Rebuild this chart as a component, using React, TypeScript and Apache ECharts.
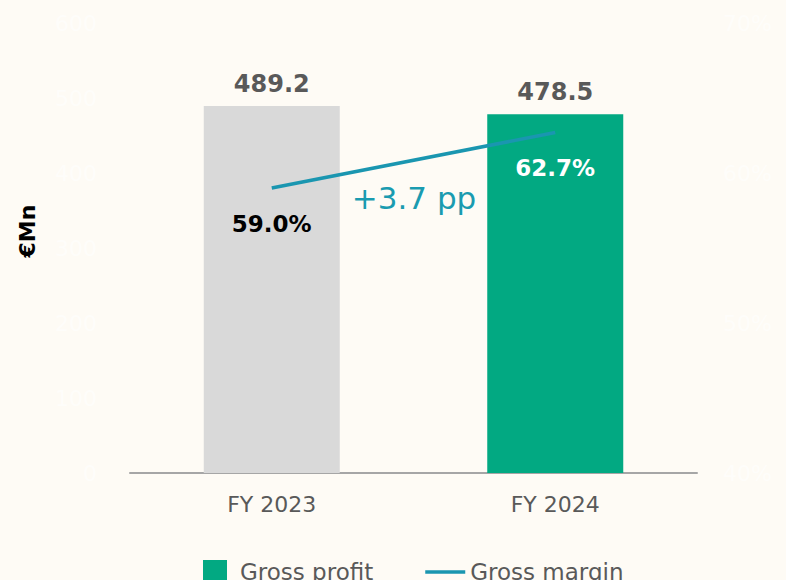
import React, { useEffect, useRef } from "react";
import * as echarts from "echarts";

const categories = ["FY 2023", "FY 2024"];
const grossProfit = [489.2, 478.5];
const grossMargin = [59.0, 62.7];
const barColors = ["#d9d9d9", "#02a982"];
const marginLabelColors = ["#000000", "#ffffff"];
const deltaText = "+3.7 pp";
const unitText = "€Mn";

const FONT = "DejaVu Sans";

export default function App() {
  const ref = useRef<HTMLDivElement>(null);
  useEffect(() => {
    if (!ref.current) return;
    const chart = echarts.init(ref.current, undefined, { renderer: "svg" });
    chart.setOption({
      animation: false,
      backgroundColor: "#fefbf5",
      textStyle: { fontFamily: FONT },
      grid: { left: 130, right: 89, top: 23, bottom: 107 },
      legend: {
        top: 555,
        left: 198,
        itemWidth: 40,
        itemHeight: 24,
        itemGap: 52,
        textStyle: { fontFamily: FONT, fontSize: 23, color: "#595959" },
        data: [
          { name: "Gross profit", icon: "path://M0,0H10V10H0Z", itemStyle: { color: "#02a982" } },
          { name: "Gross margin", icon: "path://M0,0H40V3.5H0Z", itemStyle: { color: "#1a96b0" } },
        ],
      },
      xAxis: {
        type: "category",
        data: categories,
        axisTick: { show: false },
        axisLine: { lineStyle: { color: "#a6a6a6", width: 2 } },
        axisLabel: { color: "#595959", fontSize: 22, margin: 20, fontFamily: FONT },
      },
      yAxis: [
        {
          type: "value",
          min: 0,
          max: 600,
          interval: 100,
          splitLine: { show: false },
          axisLine: { show: false },
          axisLabel: { color: "rgba(255,255,255,0.55)", fontSize: 22, margin: 33, fontFamily: FONT },
        },
        {
          type: "value",
          min: 40,
          max: 70,
          interval: 10,
          splitLine: { show: false },
          axisLine: { show: false },
          axisLabel: {
            color: "rgba(255,255,255,0.55)",
            fontSize: 22,
            margin: 26,
            fontFamily: FONT,
            formatter: "{value}%",
          },
        },
      ],
      series: [
        {
          name: "Gross profit",
          type: "bar",
          barWidth: 136,
          itemStyle: { color: "#02a982" },
          data: grossProfit.map((v, i) => ({ value: v, itemStyle: { color: barColors[i] } })),
          label: {
            show: true,
            position: "top",
            distance: 10,
            fontFamily: FONT,
            fontSize: 24,
            fontWeight: "bold",
            color: "#595959",
            formatter: (p: any) => p.value.toFixed(1),
          },
        },
        {
          name: "Gross margin",
          type: "line",
          yAxisIndex: 1,
          symbol: "circle",
          symbolSize: 0.1,
          showSymbol: true,
          lineStyle: { color: "#1a96b0", width: 3.5 },
          itemStyle: { color: "#1a96b0" },
          data: grossMargin.map((v, i) => ({
            value: v,
            label: {
              show: true,
              position: "bottom",
              distance: 24,
              fontFamily: FONT,
              fontSize: 23,
              fontWeight: "bold",
              color: marginLabelColors[i],
              formatter: (p: any) => p.value.toFixed(1) + "%",
            },
          })),
        },
      ],
      graphic: [
        {
          type: "text",
          x: 414,
          y: 198,
          style: {
            text: deltaText,
            fill: "#1a9bb0",
            fontFamily: FONT,
            fontSize: 31,
            align: "center",
            verticalAlign: "middle",
          },
        },
        {
          type: "text",
          x: 27,
          y: 231,
          rotation: Math.PI / 2,
          style: {
            text: unitText,
            fill: "#000000",
            fontFamily: FONT,
            fontSize: 22,
            fontWeight: "bold",
            align: "center",
            verticalAlign: "middle",
          },
        },
      ],
    });
    return () => chart.dispose();
  }, []);
  return <div ref={ref} style={{ width: 786, height: 580, position: "absolute", left: 0, top: 0 }} />;
}
